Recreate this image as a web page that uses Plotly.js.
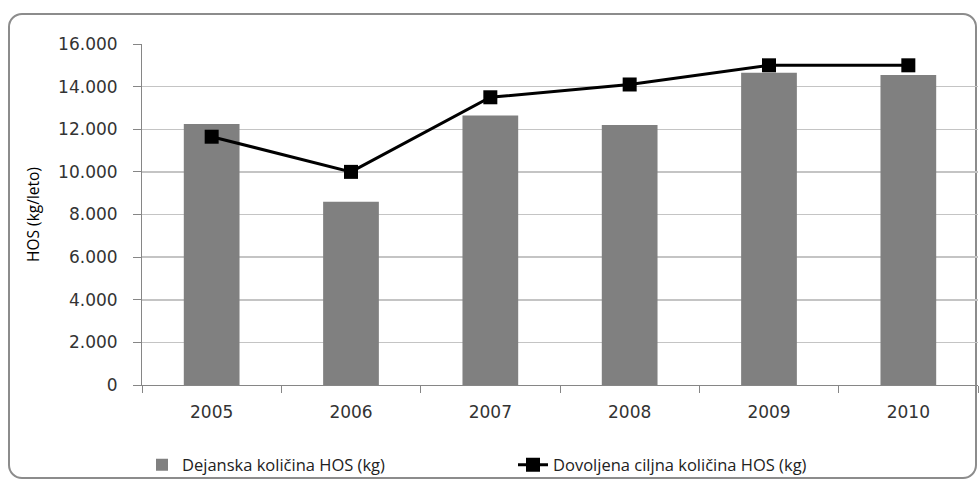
<!DOCTYPE html>
<html>
<head>
<meta charset="utf-8">
<script src="https://cdn.plot.ly/plotly-3.0.1.min.js"></script>
<style>
  html, body { margin: 0; padding: 0; background: #fff; }
  #wrap { position: relative; width: 980px; height: 483px; overflow: hidden; }
  #frame { position: absolute; left: 8px; top: 13px; width: 969px; height: 466px;
           border: 2px solid #8c8c8c; border-radius: 14px; box-sizing: border-box; }
  #chart { position: absolute; left: 0; top: 0; width: 980px; height: 483px; }
</style>
</head>
<body>
<div id="wrap">
  <div id="frame"></div>
  <div id="chart"></div>
</div>
<script>
const years = ['2005', '2006', '2007', '2008', '2009', '2010'];
const actualHOS = [12250, 8600, 12650, 12200, 14650, 14550];
const allowedHOS = [11650, 10000, 13500, 14100, 15000, 15000];
const yTicks = [0, 2000, 4000, 6000, 8000, 10000, 12000, 14000, 16000];
const seriesNames = ['Dejanska količina HOS (kg)', 'Dovoljena ciljna količina HOS (kg)'];
const yTitle = 'HOS (kg/leto)';

const traces = [
  {
    type: 'bar', x: years, y: actualHOS, name: seriesNames[0],
    marker: { color: '#808080', line: { width: 0 } },
    hoverinfo: 'skip'
  },
  {
    type: 'scatter', mode: 'lines+markers', x: years, y: allowedHOS, name: seriesNames[1],
    line: { color: '#000000', width: 3 },
    marker: { symbol: 'square', size: 14, color: '#000000' },
    hoverinfo: 'skip'
  }
];

const layout = {
  width: 980, height: 483,
  margin: { l: 142, r: 2, t: 44, b: 97 },
  paper_bgcolor: 'rgba(0,0,0,0)',
  plot_bgcolor: 'rgba(0,0,0,0)',
  separators: ',.',
  bargap: 0.6,
  showlegend: true,
  font: { family: 'DejaVu Sans', color: '#333333' },
  xaxis: {
    type: 'category',
    tickson: 'boundaries',
    ticks: 'outside', ticklen: 7, tickcolor: '#868686', tickwidth: 1,
    ticklabelstandoff: 12,
    showline: true, linecolor: '#868686', linewidth: 1,
    showgrid: false, zeroline: false,
    tickfont: { family: 'DejaVu Sans', size: 17, color: '#333333' },
    fixedrange: true
  },
  yaxis: {
    range: [0, 16000],
    tickvals: yTicks,
    tickformat: ',d',
    ticks: 'outside', ticklen: 8, tickcolor: '#868686', tickwidth: 1,
    ticklabelstandoff: 12,
    showline: true, linecolor: '#868686', linewidth: 1,
    showgrid: true, gridcolor: '#c4c4c4', gridwidth: 1.5,
    zeroline: false,
    tickfont: { family: 'DejaVu Sans', size: 17, color: '#333333' },
    title: { text: yTitle, font: { family: 'Open Sans', size: 15.5, color: '#000000' }, standoff: 14 },
    fixedrange: true
  },
  legend: {
    orientation: 'h',
    x: 0, xanchor: 'left',
    y: -0.18, yanchor: 'top',
    font: { family: 'Open Sans', size: 16.5, color: '#222222' },
    entrywidth: 326, entrywidthmode: 'pixels',
    bgcolor: 'rgba(0,0,0,0)',
    traceorder: 'normal'
  }
};

Plotly.newPlot('chart', traces, layout, { displayModeBar: false, staticPlot: true });
</script>
</body>
</html>
